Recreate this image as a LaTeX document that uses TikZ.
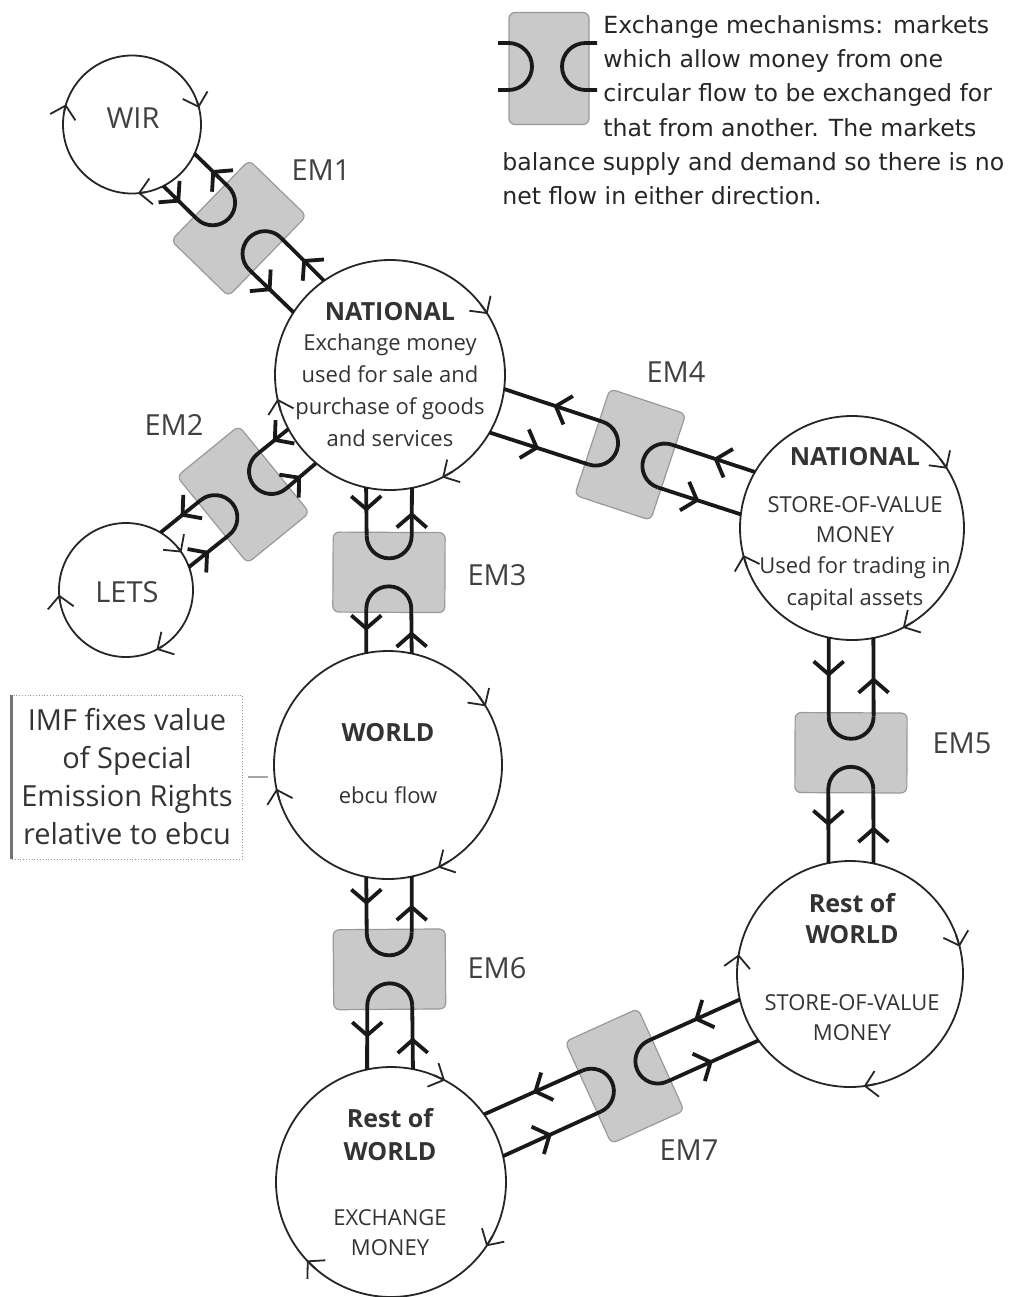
\documentclass[tikz,border=0pt]{standalone}
\usepackage{fontspec}
\setmainfont{Open Sans}
\newfontfamily\keyfont{DejaVu Sans}
\usetikzlibrary{calc,arrows.meta,decorations.markings}

\newcommand{\flowhead}[1]{{\bfseries\fontsize{12.5}{16}\selectfont #1}}

% exchange mechanism: box and two U-shaped flows between circles #1 and #2
\newcommand{\exchange}[4]{%
  \pgfpointdiff{\pgfpointanchor{#1}{center}}{\pgfpointanchor{#2}{center}}%
  \pgfgetlastxy{\emdx}{\emdy}%
  \pgfmathsetmacro{\emangle}{atan2(\emdy,\emdx)}%
  \pgfpointdiff{\pgfpointanchor{#1}{center}}{\pgfpointanchor{#1}{east}}%
  \pgfgetlastxy{\emra}{\emdummy}%
  \pgfpointdiff{\pgfpointanchor{#2}{center}}{\pgfpointanchor{#2}{east}}%
  \pgfgetlastxy{\emrb}{\emdummy}%
  \pgfmathtruncatemacro{\emaone}{round(\emangle-asin(11.25/\emra))}%
  \pgfmathtruncatemacro{\ematwo}{round(\emangle+asin(11.25/\emra))}%
  \pgfmathtruncatemacro{\embone}{round(\emangle+180-asin(11.25/\emrb))}%
  \pgfmathtruncatemacro{\embtwo}{round(\emangle+180+asin(11.25/\emrb))}%
  \begin{scope}[shift={($(#1)!#3!(#2)$)}, rotate=\emangle]
    \node[embox] (#4) at (0,0) {};
    \coordinate (#4-a1) at (-36.5,-22.5);
    \coordinate (#4-a2) at (-36.5,22.5);
    \coordinate (#4-b1) at (36.5,22.5);
    \coordinate (#4-b2) at (36.5,-22.5);
    \draw[flow] (#1.\emaone) -- (#4-a1);
    \draw[chan] (#4-a1) arc[start angle=-90, end angle=90, radius=22.5];
    \draw[flow] (#4-a2) -- (#1.\ematwo);
    \draw[flow] (#2.\embone) -- (#4-b1);
    \draw[chan] (#4-b1) arc[start angle=90, end angle=270, radius=22.5];
    \draw[flow] (#4-b2) -- (#2.\embtwo);
  \end{scope}}

\begin{document}
\begin{tikzpicture}[x=0.5pt,y=0.5pt,
  ring/.style={draw=black!85, circle, line width=0.9pt, inner sep=0pt, outer sep=0pt},
  ringtip/.style={draw=black!85, line width=0.9pt, -{Straight Barb[length=6pt,width=13pt]}},
  ringtext/.style={align=center, text=black!80, font=\fontsize{11}{16}\selectfont},
  tagtext/.style={text=black!75, font=\fontsize{14.5}{17}\selectfont},
  chan/.style={draw=black!90, line width=1.9pt},
  flow/.style={chan, postaction={decorate}, decoration={markings,
      mark=at position 0.5 with {\arrow{Straight Barb[length=6.5pt,width=15pt]}}}},
  embox/.style={draw=black!40, fill=black!21, rounded corners=3pt, line width=0.6pt,
      minimum width=40pt, minimum height=56pt, inner sep=0pt, transform shape},
  keytext/.style={align=left, inner sep=0pt, text=black!85,
      font=\keyfont\fontsize{11.8}{17.15}\selectfont},
  imfbox/.style={draw=black!40, densely dotted, align=center, text=black!80,
      minimum width=115pt, minimum height=82pt, font=\fontsize{14.5}{19}\selectfont},
  imfline/.style={draw=black!35, line width=0.8pt, shorten <=3pt, shorten >=3pt}]

  \useasboundingbox (0,0) rectangle (1009,-1297);

  % circular flows
  \node[ring, minimum size=69pt] (wir) at (132,-124.5) {};
  \node[ring, minimum size=115pt] (nat) at (390,-375) {};
  \node[ring, minimum size=67pt] (lets) at (126,-590) {};
  \node[ring, minimum size=112pt] (nsv) at (852,-528) {};
  \node[ring, minimum size=114pt] (world) at (388,-765) {};
  \node[ring, minimum size=113pt] (rwsv) at (850,-974) {};
  \node[ring, minimum size=115pt] (rwex) at (391,-1182) {};

  % direction of each flow
  \foreach \c/\a in {wir/163, wir/14, wir/-85, lets/184, lets/34, lets/-63,
      nat/32, nat/192, nat/-63, nsv/32, nsv/-63, nsv/194,
      world/31, world/-64, world/192, rwsv/14, rwsv/-83, rwsv/170,
      rwex/62, rwex/-34, rwex/223}
    {\pgfmathtruncatemacro{\tipfrom}{\a+6}
     \draw[ringtip] (\c.\tipfrom) -- (\c.\a);}

  % texts in the circles
  \node[tagtext] (wir-text) at (133,-118) {WIR};
  \node[tagtext] (lets-text) at (127,-592) {LETS};
  \node[ringtext] (nat-text) at (390,-374.5) {\flowhead{NATIONAL}\\[-1pt]
    Exchange money\\ used for sale and\\ purchase of goods\\ and services};
  \node[ringtext] (nsv-text) at (855,-529.5) {\flowhead{NATIONAL}\\[7.5pt]
    STORE-OF-VALUE\\[-1pt] MONEY\\[-0.5pt] Used for trading in\\ capital assets};
  \node[ringtext] (world-text) at (388,-764) {\flowhead{WORLD}\\[15pt] ebcu flow};
  \node[ringtext] (rwex-text) at (390,-1182.5) {\flowhead{Rest of}\\[0.5pt]
    \flowhead{WORLD}\\[16.5pt] EXCHANGE\\[-1pt] MONEY};
  \node[ringtext] (rwsv-text) at (852,-967.5) {\flowhead{Rest of}\\[-0.5pt]
    \flowhead{WORLD}\\[17.5pt] STORE-OF-VALUE\\[-1pt] MONEY};

  % exchange mechanisms
  \exchange{wir}{nat}{0.414}{em1}
  \exchange{nat}{lets}{0.556}{em2}
  \exchange{nat}{world}{0.506}{em3}
  \exchange{nat}{nsv}{0.52}{em4}
  \exchange{nsv}{rwsv}{0.504}{em5}
  \exchange{world}{rwex}{0.49}{em6}
  \exchange{rwex}{rwsv}{0.509}{em7}

  \node[tagtext] (em1-label) at (321,-170) {EM1};
  \node[tagtext] (em2-label) at (174,-425) {EM2};
  \node[tagtext] (em3-label) at (497,-575) {EM3};
  \node[tagtext] (em4-label) at (676,-372) {EM4};
  \node[tagtext] (em5-label) at (962,-743) {EM5};
  \node[tagtext] (em6-label) at (497,-968) {EM6};
  \node[tagtext] (em7-label) at (689,-1150) {EM7};

  % IMF note
  \node[imfbox] (imf) at (127,-777) {IMF fixes value\\ of Special\\
    Emission Rights\\ relative to ebcu};
  \draw[black!55, line width=1.2pt] (imf.north west) -- (imf.south west);
  \draw[imfline] (imf.east) -- (imf.east -| world.west);

  % key
  \node[embox] (key) at (549,-68.5) {};
  \draw[chan] ([shift={(-51,25.5)}]key.center) -- ++(10.5,0)
    arc[start angle=90, end angle=-90, radius=23.5] -- ++(-10.5,0);
  \draw[chan] ([shift={(48,25.5)}]key.center) -- ++(-11.5,0)
    arc[start angle=90, end angle=270, radius=23.5] -- ++(11.5,0);
  \node[keytext, anchor=north west] (key-text) at (603,-15)
    {Exchange mechanisms: markets\\ which allow money from one\\
     circular flow to be exchanged for\\ that from another. The markets};
  \node[keytext, anchor=north west] (key-more) at (502,-152)
    {balance supply and demand so there is no\\ net flow in either direction.};

\end{tikzpicture}
\end{document}
